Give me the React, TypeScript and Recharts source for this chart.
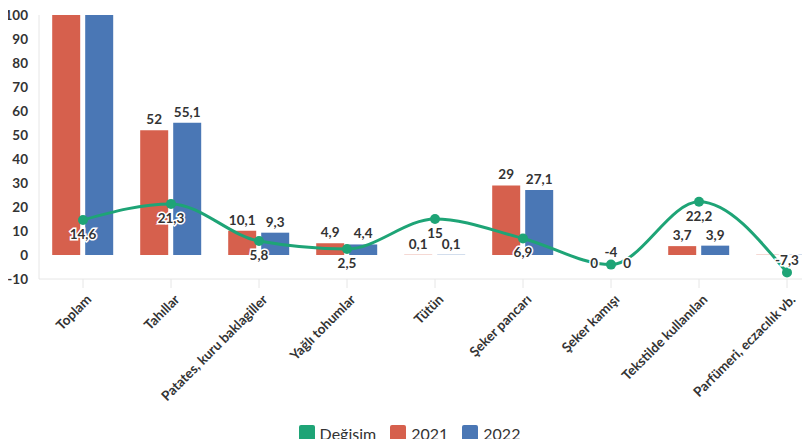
import { ComposedChart, Bar, Line, XAxis, YAxis, Legend, LabelList } from 'recharts';

const categories = [
  'Toplam',
  'Tahıllar',
  'Patates, kuru baklagiller',
  'Yağlı tohumlar',
  'Tütün',
  'Şeker pancarı',
  'Şeker kamışı',
  'Tekstilde kullanılan',
  'Parfümeri, eczacılık vb.',
];
const values2021 = [100, 52, 10.1, 4.9, 0.1, 29, 0, 3.7, 0.1];
const values2022 = [100, 55.1, 9.3, 4.4, 0.1, 27.1, 0, 3.9, 0.1];
const changeValues = [14.6, 21.3, 5.8, 2.5, 15, 6.9, -4, 22.2, -7.3];
// labels the original chart does not show (clipped / overlapping)
const hiddenBarLabels = [true, false, false, false, false, false, false, false, true];
const yTicks = [-10, 0, 10, 20, 30, 40, 50, 60, 70, 80, 90, 100];

const COLORS = {
  change: '#1ea476',
  y2021: '#d6604d',
  y2022: '#4a77b5',
  text: '#333333',
  axis: '#e6e6e6',
};

const FONT = 'Lato, "Noto Sans", sans-serif';

const fmt = (v: number) => String(v).replace('.', ',');

const data = categories.map((name, i) => ({
  name,
  v2021: values2021[i],
  v2022: values2022[i],
  change: changeValues[i],
  label2021: hiddenBarLabels[i] ? '' : fmt(values2021[i]),
  label2022: hiddenBarLabels[i] ? '' : fmt(values2022[i]),
}));

function BarLabel(props: any) {
  const { x, y, width, value } = props;
  if (!value) return null;
  const cy = value === '0' ? y + 8 : y - 11;
  return (
    <text
      x={x + width / 2}
      y={cy}
      textAnchor="middle"
      dominantBaseline="central"
      fontFamily={FONT}
      fontSize={13.5}
      fontWeight={700}
      fill={COLORS.text}
      stroke="#fff"
      strokeWidth={3}
      paintOrder="stroke"
    >
      {value}
    </text>
  );
}

function LineLabel(props: any) {
  const { x, y, value } = props;
  const cy = value < 0 ? y - 13 : y + 14;
  return (
    <text
      x={x}
      y={cy}
      textAnchor="middle"
      dominantBaseline="central"
      fontFamily={FONT}
      fontSize={13.5}
      fontWeight={700}
      fill={COLORS.text}
      stroke="#fff"
      strokeWidth={3}
      paintOrder="stroke"
    >
      {fmt(value)}
    </text>
  );
}

function CategoryTick(props: any) {
  const { x, y, payload } = props;
  return (
    <g transform={`translate(${x + 6},${y + 9}) rotate(-45)`}>
      <text
        x={0}
        y={0}
        dy="0.35em"
        textAnchor="end"
        fontFamily={FONT}
        fontSize={13.5}
        fontWeight={700}
        fill={COLORS.text}
      >
        {payload.value}
      </text>
    </g>
  );
}

const legendItems = [
  { label: 'Değişim', color: COLORS.change },
  { label: '2021', color: COLORS.y2021 },
  { label: '2022', color: COLORS.y2022 },
];

function LegendContent() {
  return (
    <div
      style={{
        display: 'flex',
        justifyContent: 'center',
        alignItems: 'center',
        gap: 14,
        height: 24,
        paddingRight: 12,
        fontFamily: FONT,
        fontSize: 16,
        color: COLORS.text,
      }}
    >
      {legendItems.map((item) => (
        <div key={item.label} style={{ display: 'flex', alignItems: 'center', gap: 5 }}>
          <span
            style={{ width: 16, height: 16, borderRadius: 2, backgroundColor: item.color, display: 'inline-block' }}
          />
          <span>{item.label}</span>
        </div>
      ))}
    </div>
  );
}

// keep zero bars in the layout so their "0" labels are drawn
const zeroBarSize = (value: number) => (value === 0 ? 0.01 : 0);

export default function App() {
  return (
    <div style={{ margin: -8, width: 810, height: 447, overflow: 'hidden', background: '#fff' }}>
      <ComposedChart
        width={840}
        height={447}
        data={data}
        margin={{ top: 15, right: 9, bottom: 2, left: 0 }}
        barGap={5}
        barCategoryGap="15%"
      >
        <XAxis
          dataKey="name"
          interval={0}
          height={142}
          tick={<CategoryTick />}
          tickSize={9}
          tickMargin={0}
          axisLine={{ stroke: COLORS.axis }}
          tickLine={{ stroke: COLORS.axis }}
        />
        <YAxis
          width={39}
          domain={[-10, 100]}
          ticks={yTicks}
          interval={0}
          tickSize={0}
          tickMargin={11}
          axisLine={{ stroke: COLORS.axis }}
          tickLine={false}
          tick={{ fontFamily: FONT, fontSize: 13.5, fontWeight: 700, fill: COLORS.text }}
        />
        <Legend verticalAlign="bottom" height={24} content={<LegendContent />} />
        <Bar
          dataKey="v2021"
          name="2021"
          fill={COLORS.y2021}
          minPointSize={zeroBarSize}
          isAnimationActive={false}
        >
          <LabelList dataKey="label2021" content={<BarLabel />} />
        </Bar>
        <Bar
          dataKey="v2022"
          name="2022"
          fill={COLORS.y2022}
          minPointSize={zeroBarSize}
          isAnimationActive={false}
        >
          <LabelList dataKey="label2022" content={<BarLabel />} />
        </Bar>
        <Line
          dataKey="change"
          name="Değişim"
          type="monotone"
          stroke={COLORS.change}
          strokeWidth={3}
          dot={{ r: 5, fill: COLORS.change, stroke: COLORS.change, strokeWidth: 0 }}
          activeDot={false}
          isAnimationActive={false}
        >
          <LabelList dataKey="change" content={<LineLabel />} />
        </Line>
      </ComposedChart>
    </div>
  );
}
